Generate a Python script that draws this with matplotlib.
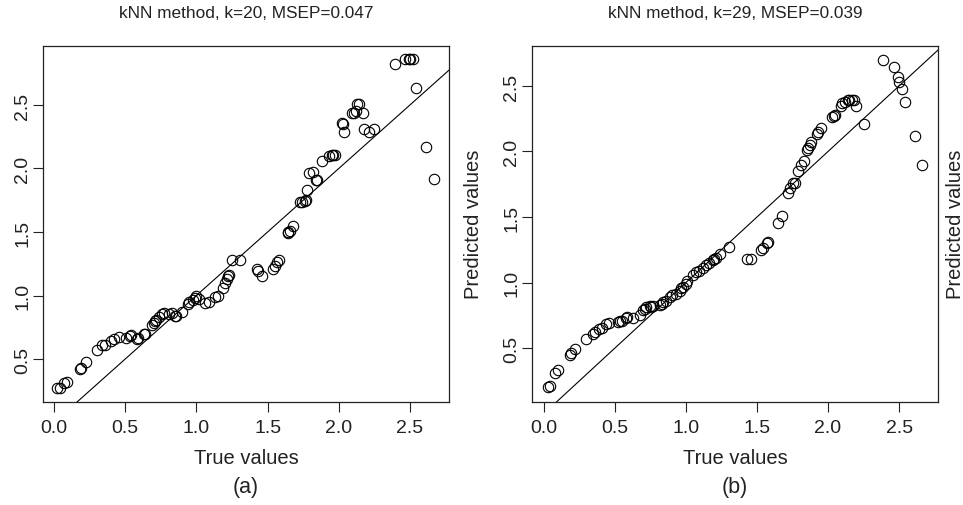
import numpy as np
import matplotlib
matplotlib.use('Agg')
import matplotlib.pyplot as plt

plt.rcParams['font.family'] = ['Liberation Sans', 'DejaVu Sans']

# panel (a): kNN, k=20
true_a = [0.02, 0.04, 0.07, 0.09, 0.18, 0.19, 0.225, 0.30, 0.34, 0.36, 0.40, 0.42, 0.456,
          0.505, 0.534, 0.54, 0.58, 0.59, 0.632, 0.64, 0.686, 0.70, 0.71, 0.72, 0.74, 0.756,
          0.77, 0.81, 0.83, 0.85, 0.86, 0.90, 0.94, 0.95, 0.976, 0.99, 1.00, 1.02, 1.06, 1.09,
          1.13, 1.15, 1.185, 1.20, 1.213, 1.224, 1.23, 1.252, 1.306, 1.423, 1.435, 1.463,
          1.535, 1.55, 1.565, 1.58, 1.64, 1.645, 1.655, 1.68, 1.73, 1.74, 1.76, 1.77, 1.78,
          1.79, 1.82, 1.84, 1.85, 1.88, 1.93, 1.95, 1.96, 1.97, 2.02, 2.03, 2.04, 2.09, 2.11,
          2.12, 2.13, 2.14, 2.17, 2.18, 2.21, 2.25, 2.395, 2.465, 2.49, 2.50, 2.52, 2.54,
          2.61, 2.67]
pred_a = [0.27, 0.275, 0.31, 0.32, 0.42, 0.43, 0.48, 0.57, 0.61, 0.61, 0.64, 0.66, 0.675,
          0.665, 0.68, 0.69, 0.66, 0.665, 0.70, 0.70, 0.77, 0.78, 0.80, 0.81, 0.83, 0.854,
          0.86, 0.856, 0.86, 0.84, 0.835, 0.87, 0.93, 0.95, 0.968, 0.98, 1.00, 0.97, 0.94, 0.95,
          0.985, 1.00, 1.058, 1.10, 1.129, 1.155, 1.165, 1.278, 1.278, 1.207, 1.19, 1.155,
          1.21, 1.23, 1.26, 1.28, 1.49, 1.50, 1.51, 1.547, 1.74, 1.74, 1.745, 1.75, 1.83,
          1.965, 1.97, 1.91, 1.91, 2.06, 2.10, 2.11, 2.11, 2.11, 2.36, 2.35, 2.29, 2.44, 2.44,
          2.45, 2.51, 2.51, 2.44, 2.31, 2.29, 2.31, 2.82, 2.86, 2.86, 2.86, 2.86, 2.63,
          2.17, 1.92]

# panel (b): kNN, k=29
true_b = [0.03, 0.04, 0.08, 0.10, 0.18, 0.19, 0.22, 0.295, 0.345, 0.36, 0.39, 0.41, 0.44,
          0.46, 0.52, 0.535, 0.55, 0.575, 0.585, 0.63, 0.676, 0.70, 0.71, 0.72, 0.745, 0.755,
          0.77, 0.82, 0.83, 0.84, 0.86, 0.885, 0.905, 0.93, 0.955, 0.965, 0.98, 1.00, 1.01,
          1.05, 1.07, 1.09, 1.12, 1.14, 1.16, 1.19, 1.20, 1.21, 1.24, 1.305, 1.43, 1.455,
          1.53, 1.545, 1.57, 1.58, 1.645, 1.675, 1.715, 1.73, 1.75, 1.77, 1.785, 1.81, 1.83,
          1.85, 1.86, 1.87, 1.88, 1.92, 1.93, 1.95, 2.03, 2.04, 2.05, 2.09, 2.10, 2.12, 2.14,
          2.15, 2.17, 2.18, 2.20, 2.255, 2.39, 2.465, 2.49, 2.50, 2.52, 2.54, 2.61, 2.66]
pred_b = [0.20, 0.21, 0.31, 0.33, 0.45, 0.46, 0.49, 0.57, 0.61, 0.62, 0.645, 0.655, 0.68,
          0.69, 0.70, 0.705, 0.71, 0.73, 0.735, 0.73, 0.755, 0.79, 0.80, 0.81, 0.82, 0.815,
          0.82, 0.83, 0.835, 0.85, 0.86, 0.89, 0.905, 0.915, 0.935, 0.955, 0.965, 0.99, 1.01,
          1.06, 1.08, 1.09, 1.11, 1.13, 1.15, 1.17, 1.18, 1.19, 1.22, 1.27, 1.18, 1.18,
          1.25, 1.26, 1.30, 1.31, 1.455, 1.51, 1.68, 1.72, 1.76, 1.76, 1.85, 1.90, 1.93,
          2.01, 2.03, 2.05, 2.07, 2.13, 2.15, 2.18, 2.26, 2.27, 2.28, 2.35, 2.37, 2.38, 2.39,
          2.39, 2.39, 2.39, 2.35, 2.21, 2.70, 2.645, 2.57, 2.53, 2.48, 2.38, 2.12, 1.90]

titles = ['kNN method, k=20, MSEP=0.047', 'kNN method, k=29, MSEP=0.039']
panel_tags = ['(a)', '(b)']
ticks = [0.0, 0.5, 1.0, 1.5, 2.0, 2.5]
ticklabels = ['0.0', '0.5', '1.0', '1.5', '2.0', '2.5']

fig = plt.figure(figsize=(9.63, 5.06), dpi=100)

panels = [(true_a, pred_a, (-0.077, 2.774), (0.162, 2.964), 43),
          (true_b, pred_b, (-0.084, 2.774), (0.088, 2.805), 532)]
ylab_x = [473, 955]

for i, (tx, py, xl, yl, left) in enumerate(panels):
    ax = fig.add_axes([left / 963, 103 / 506, 406 / 963, 356 / 506])
    ax.plot(tx, py, 'o', mfc='none', mec='black', ms=7.5, mew=0.8, ls='none')
    ax.axline((0, 0), slope=1, color='black', lw=0.8)
    ax.set_xlim(xl)
    ax.set_ylim(yl)
    ax.set_xticks(ticks)
    ax.set_xticklabels(ticklabels)
    ax.set_yticks(ticks[1:])
    ax.set_yticklabels(ticklabels[1:], rotation=90, va='center')
    ax.tick_params(axis='x', direction='out', length=7, width=0.8, labelsize=14,
                   colors='#222222', pad=5)
    ax.tick_params(axis='y', direction='out', length=7, width=0.8, labelsize=14,
                   colors='#222222', pad=1.5)
    for s in ax.spines.values():
        s.set_linewidth(0.9)
        s.set_color('#222222')
    ax.set_xlabel('True values', fontsize=14.5, labelpad=9, color='#222222')
    cx = (left + 203) / 963
    fig.text(cx, 1 - 14 / 506, titles[i], ha='center', va='center',
             fontsize=12.4, color='#222222')
    fig.text(cx, 1 - 488 / 506, panel_tags[i], ha='center', va='center',
             fontsize=15.5, color='#222222')
    fig.text(ylab_x[i] / 963, 1 - 224 / 506, 'Predicted values', rotation=90,
             ha='center', va='center', fontsize=14.5, color='#222222')

fig.savefig('out.png', dpi=100)
